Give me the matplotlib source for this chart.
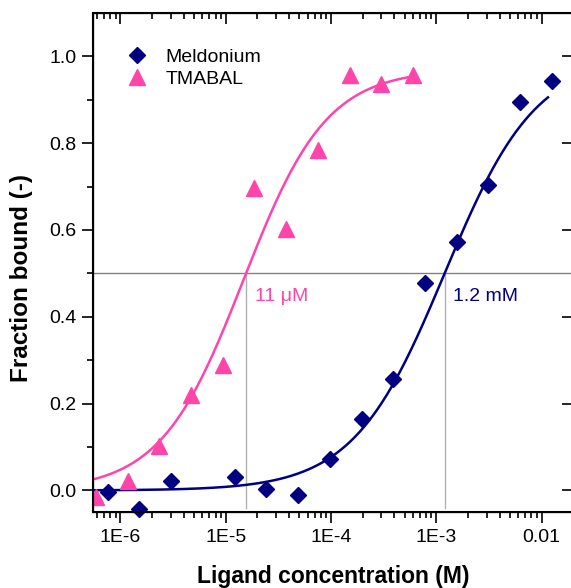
import numpy as np
import matplotlib.pyplot as plt

plt.rcParams['font.family'] = ['Liberation Sans', 'DejaVu Sans']

# Meldonium (diamonds)
meld_conc = [7.6e-7, 1.5e-6, 3.05e-6, 1.22e-5, 2.44e-5, 4.88e-5, 9.77e-5,
             1.95e-4, 3.9e-4, 7.8e-4, 1.56e-3, 3.125e-3, 6.25e-3, 1.25e-2]
meld_frac = [-0.004, -0.043, 0.021, 0.032, 0.004, -0.010, 0.073,
             0.164, 0.256, 0.479, 0.573, 0.703, 0.894, 0.944]

# TMABAL (triangles)
tma_conc = [5.86e-7, 1.17e-6, 2.34e-6, 4.69e-6, 9.38e-6, 1.875e-5, 3.75e-5,
            7.5e-5, 1.5e-4, 3.0e-4, 6.0e-4]
tma_frac = [-0.014, 0.022, 0.103, 0.221, 0.288, 0.696, 0.603,
            0.784, 0.956, 0.936, 0.956]

# fit parameters (Hill): top, K, n ; and where the curves cross 0.5
meld_fit = (1.0, 1.2e-3, 1.0)
tma_fit = (0.97, 1.475e-5, 1.1)
meld_half = 1.2e-3
tma_half = 1.56e-5

navy = '#000080'
pink = '#ff44aa'


def hill(x, top, k, n):
    return top * x**n / (x**n + k**n)


fig = plt.figure(figsize=(5.71, 5.88), dpi=100)
ax = fig.add_axes([0.163, 0.129, 0.841, 0.849])
ax.set_xscale('log')
ax.set_xlim(5.5e-7, 2e-2)
ax.set_ylim(-0.05, 1.1)

# guide lines
ax.axhline(0.5, color='#808080', lw=1, zorder=1)
ax.plot([tma_half, tma_half], [-0.04, 0.5], color='#b0b0b0', lw=1, zorder=1)
ax.plot([meld_half, meld_half], [-0.04, 0.5], color='#b0b0b0', lw=1, zorder=1)

# fitted curves
xm = np.logspace(np.log10(5.5e-7), np.log10(1.15e-2), 300)
xt = np.logspace(np.log10(5.5e-7), np.log10(6.0e-4), 300)
ax.plot(xm, hill(xm, *meld_fit), color=navy, lw=1.8, zorder=2)
ax.plot(xt, hill(xt, *tma_fit), color=pink, lw=1.8, zorder=2)

ax.plot(meld_conc, meld_frac, 'D', color=navy, ms=8.5, ls='none',
        label='Meldonium', zorder=3, clip_on=False)
ax.plot(tma_conc, tma_frac, '^', color=pink, ms=11, ls='none',
        label='TMABAL', zorder=3)

ax.text(1.9e-5, 0.447, '11 \u03bcM', color=pink, fontsize=14, va='center')
ax.text(1.45e-3, 0.447, '1.2 mM', color=navy, fontsize=14, va='center')

ax.legend(loc='upper left', frameon=False, fontsize=14,
          bbox_to_anchor=(0.025, 0.965), handletextpad=0.7, labelspacing=0.25,
          handlelength=1.5)

ax.set_xticks([1e-6, 1e-5, 1e-4, 1e-3, 1e-2])
ax.set_xticklabels(['1E-6', '1E-5', '1E-4', '1E-3', '0.01'])
ax.set_yticks([0.0, 0.2, 0.4, 0.6, 0.8, 1.0])
ax.set_yticks([0.1, 0.3, 0.5, 0.7, 0.9], minor=True)
ax.yaxis.set_major_formatter(plt.FormatStrFormatter('%.1f'))
ax.tick_params(which='major', direction='out', length=8, width=1.2,
               labelsize=14, pad=4)
ax.tick_params(which='minor', direction='out', length=4, width=1.2)
ax.set_xlabel('Ligand concentration (M)', fontsize=16.5, fontweight='bold',
              labelpad=14)
ax.set_ylabel('Fraction bound (-)', fontsize=17.5, fontweight='bold')
ax.yaxis.set_label_coords(-0.125, 0.47)
for s in ax.spines.values():
    s.set_linewidth(1.5)

# top and right ticks point inward
ax2 = ax.twiny()
ax2.set_xscale('log')
ax2.set_xlim(ax.get_xlim())
ax2.set_xticks([1e-6, 1e-5, 1e-4, 1e-3, 1e-2])
ax2.tick_params(which='major', direction='in', length=8, width=1.2,
                labeltop=False)
ax2.tick_params(which='minor', direction='in', length=4, width=1.2)
ax3 = ax.twinx()
ax3.set_ylim(ax.get_ylim())
ax3.set_yticks([0.0, 0.2, 0.4, 0.6, 0.8, 1.0])
ax3.tick_params(direction='in', length=8, width=1.2, labelright=False)

fig.savefig('out.png', dpi=100)
